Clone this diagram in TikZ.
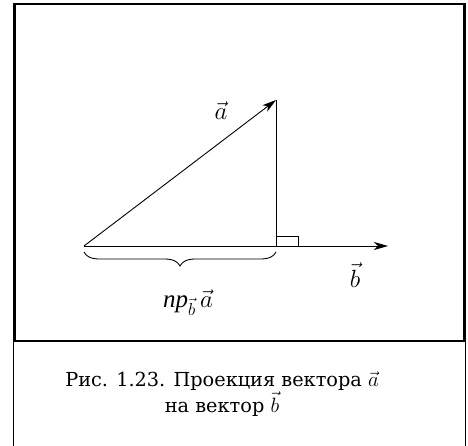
\documentclass[tikz,border=0pt]{standalone}
\usepackage{fontspec}
\setmainfont{DejaVu Serif}
\newfontfamily\prfont{Liberation Serif}
\usetikzlibrary{arrows.meta,decorations.pathreplacing}

\begin{document}
\begin{tikzpicture}[
  x=1pt, y=-1pt,
  vec/.style={
    line width=0.9pt,
    -{Stealth[length=14pt,width=8pt,inset=4pt]}
  },
  plain/.style={line width=0.9pt},
  lbl/.style={
    inner sep=0pt,
    font=\fontsize{25}{27}\selectfont
  },
  caption/.style={
    align=center,
    inner sep=0pt,
    font=\fontsize{19.3}{21}\selectfont
  }
]
  \useasboundingbox (0,0) rectangle (468,446);

  % Frame
  \draw[line width=2.6pt] (14.5,4) rectangle (464.7,341);
  \draw[line width=1.3pt] (13.5,341) -- (13.5,446);
  \draw[line width=1.3pt] (465.7,341) -- (465.7,446);

  % Points
  \coordinate (O) at (84,246);
  \coordinate (A) at (276,100);
  \coordinate (P) at (276,246);
  \coordinate (B) at (388,246);

  % Vectors and perpendicular
  \draw[vec] (O) -- (A);
  \draw[vec] (O) -- (B);
  \draw[plain] (A) -- (P);
  \draw[plain] (P) rectangle ++(22,-10);

  % Brace under the projection
  \draw[plain, decorate, decoration={brace, mirror, amplitude=14pt}]
    (84,252) -- (276,252);

  % Labels
  \node[lbl] (la) at (221,111) {$\vec{a}$};
  \node[lbl] (lb) at (355,275) {$\vec{b}$};
  \node[lbl, anchor=base] (lpr) at (188,307) {{\prfont\itshape пр}$_{\vec{b}}\,\vec{a}$};

  % Caption
  \node[caption] (cap) at (222,394)
    {Рис. 1.23. Проекция вектора $\vec{a}$\\на вектор $\vec{b}$};
\end{tikzpicture}
\end{document}
